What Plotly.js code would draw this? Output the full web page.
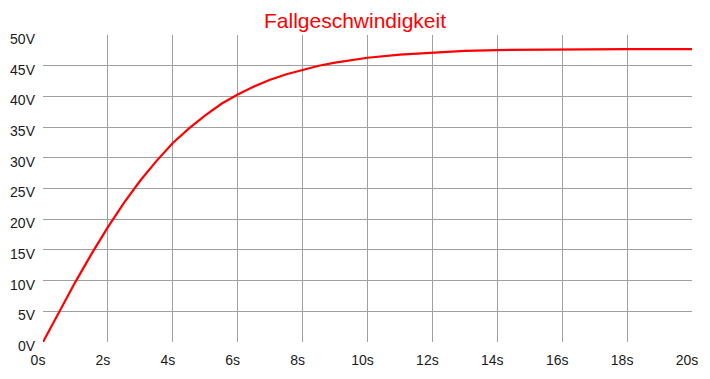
<!DOCTYPE html>
<html>
<head>
<meta charset="utf-8">
<script src="https://cdn.plot.ly/plotly-3.0.1.min.js"></script>
<style>html,body{margin:0;padding:0;background:#fff}#chart{width:710px;height:379px}</style>
</head>
<body>
<div id="chart"></div>
<script>
// Data
var timeS = [0, 0.5, 1, 1.5, 2, 2.5, 3, 3.5, 4, 4.5, 5, 5.5, 6, 6.5, 7, 7.5, 8, 8.5, 9, 9.5, 10, 11, 12, 13, 14, 15, 16, 18, 20];
var speedV = [0, 4.9, 9.8, 14.4, 18.7, 22.7, 26.3, 29.5, 32.4, 34.8, 36.9, 38.8, 40.3, 41.6, 42.7, 43.6, 44.3, 45.0, 45.5, 45.9, 46.3, 46.8, 47.1, 47.4, 47.55, 47.6, 47.7, 47.7, 47.7];
var xTickVals = [0, 2, 4, 6, 8, 10, 12, 14, 16, 18, 20];
var xTickText = ["0s", "2s", "4s", "6s", "8s", "10s", "12s", "14s", "16s", "18s", "20s"];
var yTickVals = [0, 5, 10, 15, 20, 25, 30, 35, 40, 45, 50];
var yTickText = ["0V", "5V", "10V", "15V", "20V", "25V", "30V", "35V", "40V", "45V", "50V"];
var xGridVals = [2, 4, 6, 8, 10, 12, 14, 16, 18];
var yGridVals = [5, 10, 15, 20, 25, 30, 35, 40, 45];
var titleText = "Fallgeschwindigkeit";

var font = "'Liberation Sans', Arial, sans-serif";
var data = [
  {x: timeS, y: speedV, type: "scatter", mode: "lines", line: {color: "#ff0000", width: 2.2}, hoverinfo: "skip", xaxis: "x", yaxis: "y"},
  {x: [], y: [], type: "scatter", mode: "lines", xaxis: "x2", yaxis: "y2", showlegend: false}
];
var layout = {
  width: 710, height: 379,
  margin: {l: 43, r: 18, t: 35, b: 37},
  paper_bgcolor: "#ffffff", plot_bgcolor: "#ffffff",
  showlegend: false,
  title: {text: titleText, font: {family: font, size: 21, color: "#ff0000"}, x: 0.5, xanchor: "center", y: 0.945, yanchor: "middle"},
  xaxis: {range: [0, 20], tickmode: "array", tickvals: xGridVals, showticklabels: false, ticks: "",
          showgrid: true, gridcolor: "#a0a0a0", gridwidth: 1, zeroline: false, showline: false, fixedrange: true},
  yaxis: {range: [0, 50], tickmode: "array", tickvals: yGridVals, showticklabels: false, ticks: "",
          showgrid: true, gridcolor: "#a0a0a0", gridwidth: 1, zeroline: false, showline: false, fixedrange: true},
  // label-only overlay axes
  xaxis2: {range: [0, 20], overlaying: "x", anchor: "y2", tickmode: "array", tickvals: xTickVals, ticktext: xTickText,
           showgrid: false, zeroline: false, showline: false, ticks: "", ticklen: 0, ticklabelstandoff: 8, ticklabelshift: -5,
           tickfont: {family: font, size: 14, color: "#1a1a1a"}, fixedrange: true},
  yaxis2: {range: [0, 50], overlaying: "y", anchor: "x2", tickmode: "array", tickvals: yTickVals, ticktext: yTickText,
           showgrid: false, zeroline: false, showline: false, ticks: "", ticklen: 0, ticklabelstandoff: 7, ticklabelshift: 4,
           tickfont: {family: font, size: 14, color: "#1a1a1a"}, fixedrange: true}
};
Plotly.newPlot("chart", data, layout, {displayModeBar: false, staticPlot: true});
</script>
</body>
</html>
